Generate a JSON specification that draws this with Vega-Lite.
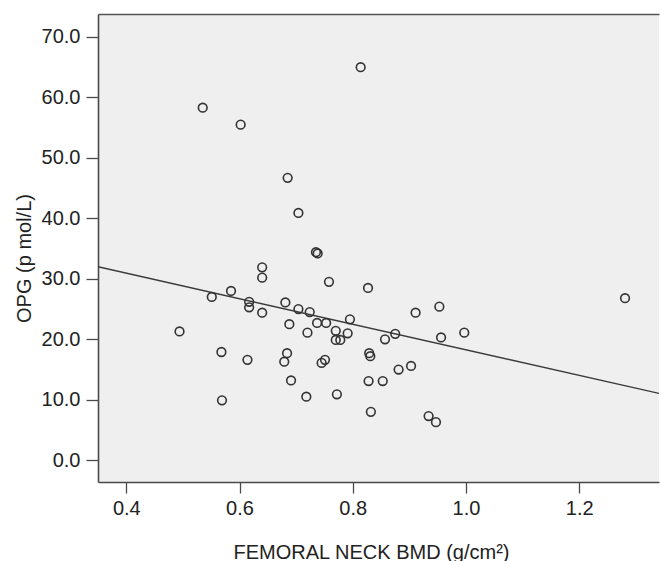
{
  "$schema": "https://vega.github.io/schema/vega-lite/v6.json",
  "autosize": "none",
  "width": 561,
  "height": 468,
  "padding": {"left": 98, "top": 14, "right": 2, "bottom": 79},
  "background": "white",
  "config": {
    "font": "Liberation Sans",
    "view": {"fill": "#efefef", "stroke": null},
    "axis": {"grid": false, "domainColor": "#4a4a4a", "domainWidth": 1.6, "tickColor": "#4a4a4a", "tickWidth": 1.3, "labelColor": "#222", "titleColor": "#222", "labelFontSize": 20, "titleFontSize": 20, "titleFontWeight": "normal"}
  },
  "datasets": {
    "pts": [
      {"bmd": 0.494, "opg": 21.3}, {"bmd": 0.535, "opg": 58.3}, {"bmd": 0.551, "opg": 27.0},
      {"bmd": 0.568, "opg": 17.9}, {"bmd": 0.569, "opg": 9.9}, {"bmd": 0.585, "opg": 28.0},
      {"bmd": 0.602, "opg": 55.5}, {"bmd": 0.614, "opg": 16.6}, {"bmd": 0.617, "opg": 26.2},
      {"bmd": 0.617, "opg": 25.3}, {"bmd": 0.64, "opg": 24.4}, {"bmd": 0.64, "opg": 31.9},
      {"bmd": 0.64, "opg": 30.2}, {"bmd": 0.679, "opg": 16.3}, {"bmd": 0.684, "opg": 17.7},
      {"bmd": 0.681, "opg": 26.1}, {"bmd": 0.685, "opg": 46.7}, {"bmd": 0.688, "opg": 22.5},
      {"bmd": 0.691, "opg": 13.2}, {"bmd": 0.704, "opg": 40.9}, {"bmd": 0.704, "opg": 25.0},
      {"bmd": 0.718, "opg": 10.5}, {"bmd": 0.72, "opg": 21.1}, {"bmd": 0.724, "opg": 24.5},
      {"bmd": 0.735, "opg": 34.4}, {"bmd": 0.738, "opg": 34.2}, {"bmd": 0.737, "opg": 22.7},
      {"bmd": 0.745, "opg": 16.1}, {"bmd": 0.751, "opg": 16.6}, {"bmd": 0.753, "opg": 22.7},
      {"bmd": 0.758, "opg": 29.5}, {"bmd": 0.77, "opg": 21.4}, {"bmd": 0.77, "opg": 19.9},
      {"bmd": 0.778, "opg": 19.9}, {"bmd": 0.772, "opg": 10.9}, {"bmd": 0.791, "opg": 21.0},
      {"bmd": 0.795, "opg": 23.3}, {"bmd": 0.814, "opg": 65.0}, {"bmd": 0.827, "opg": 28.5},
      {"bmd": 0.829, "opg": 17.7}, {"bmd": 0.831, "opg": 17.2}, {"bmd": 0.828, "opg": 13.1},
      {"bmd": 0.832, "opg": 8.0}, {"bmd": 0.853, "opg": 13.1}, {"bmd": 0.857, "opg": 20.0},
      {"bmd": 0.875, "opg": 20.9}, {"bmd": 0.881, "opg": 15.0}, {"bmd": 0.903, "opg": 15.6},
      {"bmd": 0.911, "opg": 24.4}, {"bmd": 0.934, "opg": 7.3}, {"bmd": 0.947, "opg": 6.3},
      {"bmd": 0.953, "opg": 25.4}, {"bmd": 0.956, "opg": 20.3}, {"bmd": 0.997, "opg": 21.1},
      {"bmd": 1.281, "opg": 26.8}
    ],
    "fit": [
      {"bmd": 0.35, "opg": 32.0},
      {"bmd": 1.341, "opg": 11.05}
    ]
  },
  "resolve": {"axis": {"x": "independent"}},
  "layer": [
    {
      "data": {"name": "fit"},
      "mark": {"type": "line", "color": "#3a3a3a", "strokeWidth": 1.4, "clip": true},
      "encoding": {
        "x": {"field": "bmd", "type": "quantitative", "scale": {"domain": [0.35, 1.341], "nice": false, "zero": false},
          "axis": {"orient": "top", "labels": false, "ticks": false, "title": null, "domainColor": "#555", "domainWidth": 1.4}},
        "y": {"field": "opg", "type": "quantitative", "scale": {"domain": [-3.6, 73.8], "nice": false, "zero": false},
          "axis": {"values": [0, 10, 20, 30, 40, 50, 60, 70], "format": ".1f", "tickSize": 12, "labelPadding": 6, "title": "OPG (p mol/L)", "titlePadding": 7, "titleY": 244}}
      }
    },
    {
      "data": {"name": "pts"},
      "mark": {"type": "point", "shape": "circle", "filled": false, "stroke": "#333", "strokeWidth": 1.6, "size": 75, "opacity": 1},
      "encoding": {
        "x": {"field": "bmd", "type": "quantitative",
          "axis": {"orient": "bottom", "values": [0.4, 0.6, 0.8, 1.0, 1.2], "format": ".1f", "tickSize": 11, "labelPadding": 5, "title": "FEMORAL NECK BMD (g/cm²)", "titlePadding": 24, "titleX": 273}},
        "y": {"field": "opg", "type": "quantitative",
          "axis": {"values": [0, 10, 20, 30, 40, 50, 60, 70], "format": ".1f", "tickSize": 12, "labelPadding": 6, "title": "OPG (p mol/L)", "titlePadding": 7, "titleY": 244}}
      }
    }
  ]
}
